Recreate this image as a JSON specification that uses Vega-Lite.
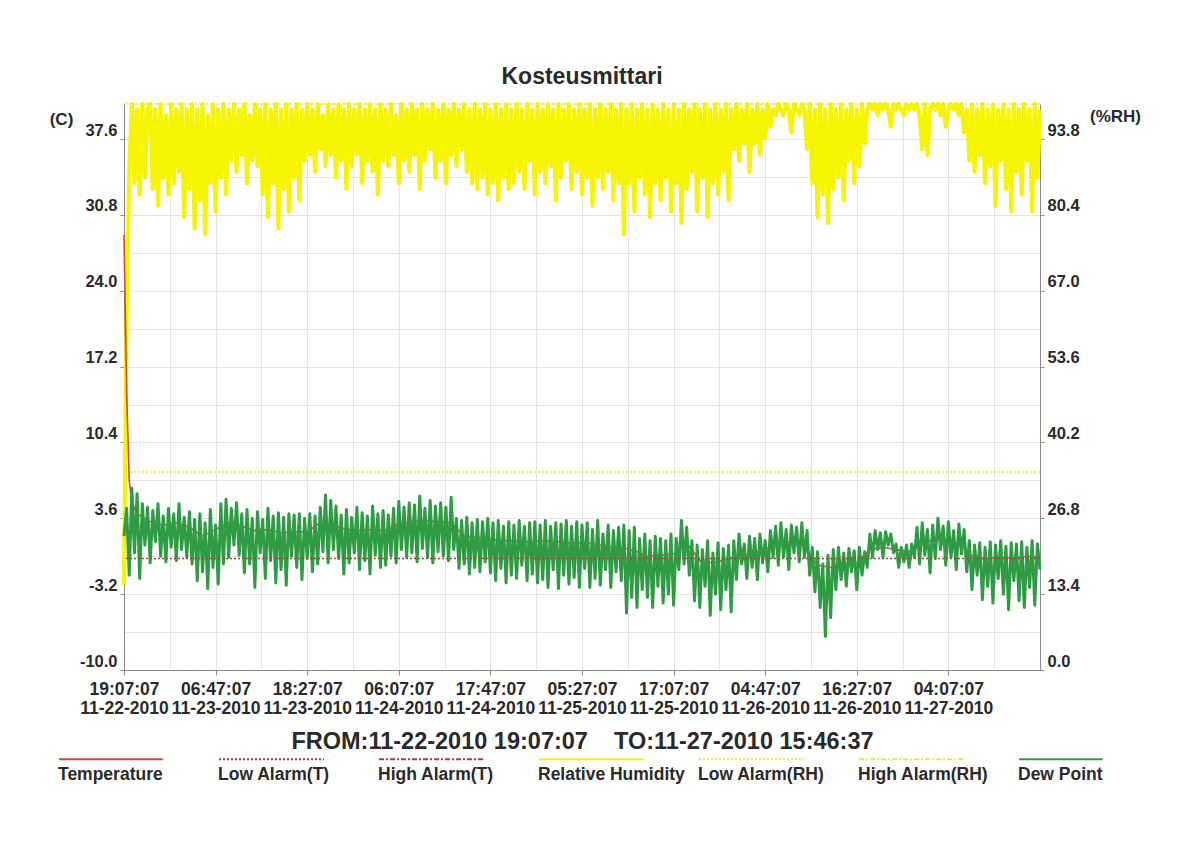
{
"$schema": "https://vega.github.io/schema/vega-lite/v6.json",
"autosize": {"type": "none"},
"padding": {"left": 124, "top": 104, "right": 142, "bottom": 173},
"width": 916,
"height": 566,
"background": "white",
"title": {"text": "Kosteusmittari", "font": "Liberation Sans", "fontSize": 23, "fontWeight": "bold", "color": "#2a2a2a", "anchor": "middle", "offset": 20, "dy": 25, "baseline": "alphabetic"},
"datasets": {
"dense": [
{"m":0,"rh":15,"dp":2.0},{"m":20,"rh":62,"dp":4.5},{"m":40,"rh":88,"dp":-1.5},{"m":60,"rh":100,"dp":6.3},{"m":80,"rh":86,"dp":0.5},{"m":100,"rh":99,"dp":5.8},{"m":120,"rh":84,"dp":-1.8},{"m":140,"rh":100,"dp":4.9},{"m":160,"rh":87,"dp":1.2},{"m":180,"rh":99,"dp":4.6},
{"m":200,"rh":100,"dp":-0.4},{"m":220,"rh":85,"dp":4.3},{"m":240,"rh":99,"dp":1.5},{"m":260,"rh":82,"dp":4.9},{"m":280,"rh":100,"dp":0.2},{"m":300,"rh":87,"dp":3.8},{"m":320,"rh":98,"dp":-0.3},{"m":340,"rh":84,"dp":4.5},{"m":360,"rh":100,"dp":1.0},{"m":380,"rh":86,"dp":4.0},
{"m":400,"rh":99,"dp":-0.2},{"m":420,"rh":88,"dp":4.9},{"m":440,"rh":100,"dp":0.8},{"m":460,"rh":80,"dp":3.7},{"m":480,"rh":99,"dp":0.1},{"m":500,"rh":85,"dp":4.2},{"m":520,"rh":100,"dp":-0.5},{"m":540,"rh":78,"dp":3.5},{"m":560,"rh":99,"dp":-2.0},{"m":580,"rh":83,"dp":4.0},
{"m":600,"rh":100,"dp":-1.2},{"m":620,"rh":77,"dp":3.2},{"m":640,"rh":98,"dp":-2.7},{"m":660,"rh":86,"dp":4.4},{"m":680,"rh":100,"dp":-0.8},{"m":700,"rh":81,"dp":3.0},{"m":720,"rh":99,"dp":-2.3},{"m":740,"rh":87,"dp":4.9},{"m":760,"rh":100,"dp":-0.5},{"m":780,"rh":84,"dp":5.3},
{"m":800,"rh":99,"dp":0.1},{"m":820,"rh":90,"dp":4.5},{"m":840,"rh":100,"dp":1.2},{"m":860,"rh":88,"dp":5.0},{"m":880,"rh":99,"dp":0.3},{"m":900,"rh":91,"dp":4.0},{"m":920,"rh":100,"dp":-1.3},{"m":940,"rh":86,"dp":4.4},{"m":960,"rh":98,"dp":-0.5},{"m":980,"rh":90,"dp":3.6},
{"m":1000,"rh":100,"dp":-2.6},{"m":1020,"rh":89,"dp":4.2},{"m":1040,"rh":99,"dp":0.5},{"m":1060,"rh":84,"dp":3.5},{"m":1080,"rh":100,"dp":-1.8},{"m":1100,"rh":80,"dp":4.5},{"m":1120,"rh":99,"dp":-0.2},{"m":1140,"rh":86,"dp":3.8},{"m":1160,"rh":100,"dp":-2.2},{"m":1180,"rh":78,"dp":4.1},
{"m":1200,"rh":99,"dp":-1.0},{"m":1220,"rh":85,"dp":3.7},{"m":1240,"rh":100,"dp":-2.4},{"m":1260,"rh":81,"dp":4.0},{"m":1280,"rh":99,"dp":0.2},{"m":1300,"rh":87,"dp":3.9},{"m":1320,"rh":100,"dp":-0.8},{"m":1340,"rh":83,"dp":4.0},{"m":1360,"rh":99,"dp":-1.9},{"m":1380,"rh":90,"dp":3.6},
{"m":1400,"rh":100,"dp":0.0},{"m":1420,"rh":91,"dp":4.0},{"m":1440,"rh":99,"dp":-1.2},{"m":1460,"rh":88,"dp":3.8},{"m":1480,"rh":100,"dp":-0.5},{"m":1500,"rh":92,"dp":4.6},{"m":1520,"rh":98,"dp":0.6},{"m":1540,"rh":89,"dp":5.7},{"m":1560,"rh":100,"dp":-0.4},{"m":1580,"rh":91,"dp":5.2},
{"m":1600,"rh":99,"dp":0.8},{"m":1620,"rh":87,"dp":4.7},{"m":1640,"rh":100,"dp":0.0},{"m":1660,"rh":90,"dp":3.9},{"m":1680,"rh":99,"dp":-1.4},{"m":1700,"rh":85,"dp":4.4},{"m":1720,"rh":100,"dp":-0.4},{"m":1740,"rh":89,"dp":3.7},{"m":1760,"rh":99,"dp":0.5},{"m":1780,"rh":91,"dp":4.6},
{"m":1800,"rh":100,"dp":-1.0},{"m":1820,"rh":86,"dp":4.1},{"m":1840,"rh":99,"dp":-0.2},{"m":1860,"rh":90,"dp":3.8},{"m":1880,"rh":100,"dp":-1.4},{"m":1900,"rh":88,"dp":4.7},{"m":1920,"rh":99,"dp":0.3},{"m":1940,"rh":84,"dp":4.0},{"m":1960,"rh":100,"dp":-0.8},{"m":1980,"rh":90,"dp":4.3},
{"m":2000,"rh":99,"dp":-0.6},{"m":2020,"rh":89,"dp":3.9},{"m":2040,"rh":100,"dp":0.2},{"m":2060,"rh":91,"dp":4.5},{"m":2080,"rh":98,"dp":-0.4},{"m":2100,"rh":86,"dp":5.1},{"m":2120,"rh":100,"dp":0.8},{"m":2140,"rh":90,"dp":4.6},{"m":2160,"rh":99,"dp":0.1},{"m":2180,"rh":88,"dp":5.0},
{"m":2200,"rh":100,"dp":0.5},{"m":2220,"rh":91,"dp":4.8},{"m":2240,"rh":99,"dp":-0.3},{"m":2260,"rh":85,"dp":5.6},{"m":2280,"rh":100,"dp":0.9},{"m":2300,"rh":90,"dp":4.5},{"m":2320,"rh":99,"dp":0.1},{"m":2340,"rh":92,"dp":5.2},{"m":2360,"rh":100,"dp":-0.4},{"m":2380,"rh":87,"dp":4.7},
{"m":2400,"rh":99,"dp":0.6},{"m":2420,"rh":90,"dp":5.0},{"m":2440,"rh":100,"dp":0.2},{"m":2460,"rh":86,"dp":4.6},{"m":2480,"rh":99,"dp":-0.2},{"m":2500,"rh":91,"dp":5.5},{"m":2520,"rh":100,"dp":0.8},{"m":2540,"rh":89,"dp":3.6},{"m":2560,"rh":99,"dp":-0.9},{"m":2580,"rh":92,"dp":3.4},
{"m":2600,"rh":100,"dp":-0.5},{"m":2620,"rh":88,"dp":3.7},{"m":2640,"rh":99,"dp":-1.4},{"m":2660,"rh":86,"dp":3.2},{"m":2680,"rh":100,"dp":-0.8},{"m":2700,"rh":85,"dp":3.5},{"m":2720,"rh":99,"dp":-1.2},{"m":2740,"rh":87,"dp":3.3},{"m":2760,"rh":100,"dp":-0.3},{"m":2780,"rh":84,"dp":3.6},
{"m":2800,"rh":99,"dp":-1.3},{"m":2820,"rh":86,"dp":3.2},{"m":2840,"rh":100,"dp":-2.0},{"m":2860,"rh":83,"dp":3.4},{"m":2880,"rh":99,"dp":-0.9},{"m":2900,"rh":87,"dp":2.9},{"m":2920,"rh":100,"dp":-2.2},{"m":2940,"rh":85,"dp":3.3},{"m":2960,"rh":99,"dp":-1.5},{"m":2980,"rh":86,"dp":3.0},
{"m":3000,"rh":100,"dp":-1.8},{"m":3020,"rh":88,"dp":3.4},{"m":3040,"rh":99,"dp":-0.6},{"m":3060,"rh":85,"dp":2.9},{"m":3080,"rh":100,"dp":-2.0},{"m":3100,"rh":90,"dp":3.2},{"m":3120,"rh":99,"dp":-1.4},{"m":3140,"rh":84,"dp":3.3},{"m":3160,"rh":100,"dp":-2.2},{"m":3180,"rh":88,"dp":3.0},
{"m":3200,"rh":99,"dp":-1.9},{"m":3220,"rh":86,"dp":3.4},{"m":3240,"rh":100,"dp":-2.6},{"m":3260,"rh":89,"dp":2.9},{"m":3280,"rh":99,"dp":-1.0},{"m":3300,"rh":83,"dp":3.2},{"m":3320,"rh":100,"dp":-2.7},{"m":3340,"rh":87,"dp":3.1},{"m":3360,"rh":99,"dp":-1.5},{"m":3380,"rh":90,"dp":3.4},
{"m":3400,"rh":100,"dp":-2.3},{"m":3420,"rh":85,"dp":2.9},{"m":3440,"rh":99,"dp":-1.7},{"m":3460,"rh":88,"dp":3.3},{"m":3480,"rh":100,"dp":-2.6},{"m":3500,"rh":84,"dp":3.0},{"m":3520,"rh":99,"dp":-0.9},{"m":3540,"rh":87,"dp":3.2},{"m":3560,"rh":100,"dp":-2.6},{"m":3580,"rh":82,"dp":2.6},
{"m":3600,"rh":99,"dp":-1.8},{"m":3620,"rh":87,"dp":3.4},{"m":3640,"rh":100,"dp":-2.4},{"m":3660,"rh":85,"dp":2.2},{"m":3680,"rh":99,"dp":-1.0},{"m":3700,"rh":88,"dp":3.0},{"m":3720,"rh":100,"dp":-2.6},{"m":3740,"rh":83,"dp":2.5},{"m":3760,"rh":99,"dp":-1.2},{"m":3780,"rh":86,"dp":2.8},
{"m":3800,"rh":100,"dp":-2.0},{"m":3820,"rh":77,"dp":3.0},{"m":3840,"rh":99,"dp":-4.9},{"m":3860,"rh":86,"dp":2.5},{"m":3880,"rh":100,"dp":-3.5},{"m":3900,"rh":81,"dp":2.8},{"m":3920,"rh":99,"dp":-4.4},{"m":3940,"rh":87,"dp":1.8},{"m":3960,"rh":100,"dp":-2.8},{"m":3980,"rh":84,"dp":2.2},
{"m":4000,"rh":99,"dp":-3.5},{"m":4020,"rh":80,"dp":1.6},{"m":4040,"rh":100,"dp":-4.4},{"m":4060,"rh":86,"dp":2.0},{"m":4080,"rh":99,"dp":-2.5},{"m":4100,"rh":83,"dp":1.8},{"m":4120,"rh":100,"dp":-4.0},{"m":4140,"rh":87,"dp":1.6},{"m":4160,"rh":99,"dp":-3.2},{"m":4180,"rh":81,"dp":2.2},
{"m":4200,"rh":100,"dp":-4.2},{"m":4220,"rh":86,"dp":1.8},{"m":4240,"rh":99,"dp":-1.0},{"m":4260,"rh":79,"dp":3.4},{"m":4280,"rh":100,"dp":-0.5},{"m":4300,"rh":85,"dp":2.8},{"m":4320,"rh":99,"dp":-1.5},{"m":4340,"rh":88,"dp":1.6},{"m":4360,"rh":100,"dp":-3.8},{"m":4380,"rh":81,"dp":1.2},
{"m":4400,"rh":99,"dp":-4.4},{"m":4420,"rh":87,"dp":0.8},{"m":4440,"rh":100,"dp":-2.5},{"m":4460,"rh":80,"dp":1.6},{"m":4480,"rh":99,"dp":-5.1},{"m":4500,"rh":86,"dp":0.5},{"m":4520,"rh":100,"dp":-3.2},{"m":4540,"rh":84,"dp":1.4},{"m":4560,"rh":99,"dp":-4.6},{"m":4580,"rh":88,"dp":0.9},
{"m":4600,"rh":100,"dp":-2.8},{"m":4620,"rh":83,"dp":1.2},{"m":4640,"rh":99,"dp":-4.8},{"m":4660,"rh":92,"dp":1.6},{"m":4680,"rh":100,"dp":-1.9},{"m":4700,"rh":90,"dp":2.2},{"m":4720,"rh":99,"dp":-0.5},{"m":4740,"rh":93,"dp":1.3},{"m":4760,"rh":100,"dp":-1.8},{"m":4780,"rh":88,"dp":2.0},
{"m":4800,"rh":99,"dp":-0.8},{"m":4820,"rh":93,"dp":1.8},{"m":4840,"rh":100,"dp":-1.9},{"m":4860,"rh":91,"dp":2.2},{"m":4880,"rh":99,"dp":-0.4},{"m":4900,"rh":94,"dp":1.6},{"m":4920,"rh":100,"dp":-1.2},{"m":4940,"rh":96,"dp":2.5},{"m":4960,"rh":99,"dp":0.1},{"m":4980,"rh":98,"dp":2.9},
{"m":5000,"rh":100,"dp":-0.6},{"m":5020,"rh":99,"dp":3.2},{"m":5040,"rh":98,"dp":0.1},{"m":5060,"rh":100,"dp":2.6},{"m":5080,"rh":99,"dp":-1.0},{"m":5100,"rh":95,"dp":3.0},{"m":5120,"rh":100,"dp":0.5},{"m":5140,"rh":99,"dp":2.8},{"m":5160,"rh":98,"dp":-0.3},{"m":5180,"rh":100,"dp":3.2},
{"m":5200,"rh":99,"dp":0.1},{"m":5220,"rh":92,"dp":2.5},{"m":5240,"rh":100,"dp":-1.5},{"m":5260,"rh":86,"dp":1.0},{"m":5280,"rh":99,"dp":-3.0},{"m":5300,"rh":80,"dp":0.6},{"m":5320,"rh":100,"dp":-4.4},{"m":5340,"rh":84,"dp":-0.5},{"m":5360,"rh":99,"dp":-7.0},{"m":5380,"rh":79,"dp":0.3},
{"m":5400,"rh":100,"dp":-5.3},{"m":5420,"rh":85,"dp":0.8},{"m":5440,"rh":99,"dp":-2.8},{"m":5460,"rh":87,"dp":1.0},{"m":5480,"rh":100,"dp":-1.9},{"m":5500,"rh":83,"dp":0.5},{"m":5520,"rh":99,"dp":-2.5},{"m":5540,"rh":90,"dp":0.9},{"m":5560,"rh":100,"dp":-1.2},{"m":5580,"rh":86,"dp":0.7},
{"m":5600,"rh":99,"dp":-2.8},{"m":5620,"rh":89,"dp":1.0},{"m":5640,"rh":100,"dp":-1.5},{"m":5660,"rh":93,"dp":0.6},{"m":5680,"rh":99,"dp":-0.8},{"m":5700,"rh":100,"dp":2.2},{"m":5720,"rh":99,"dp":0.1},{"m":5740,"rh":100,"dp":2.5},{"m":5760,"rh":98,"dp":0.8},{"m":5780,"rh":100,"dp":2.3},
{"m":5800,"rh":99,"dp":0.1},{"m":5820,"rh":100,"dp":2.4},{"m":5840,"rh":99,"dp":1.2},{"m":5860,"rh":96,"dp":2.2},{"m":5880,"rh":100,"dp":0.5},{"m":5900,"rh":99,"dp":1.3},{"m":5920,"rh":100,"dp":-0.8},{"m":5940,"rh":99,"dp":1.0},{"m":5960,"rh":98,"dp":-0.3},{"m":5980,"rh":100,"dp":1.2},
{"m":6000,"rh":99,"dp":-0.8},{"m":6020,"rh":100,"dp":1.3},{"m":6040,"rh":99,"dp":0.1},{"m":6060,"rh":100,"dp":2.8},{"m":6080,"rh":98,"dp":-0.5},{"m":6100,"rh":92,"dp":3.2},{"m":6120,"rh":100,"dp":0.3},{"m":6140,"rh":91,"dp":2.6},{"m":6160,"rh":99,"dp":-1.3},{"m":6180,"rh":100,"dp":3.0},
{"m":6200,"rh":99,"dp":0.0},{"m":6220,"rh":100,"dp":3.6},{"m":6240,"rh":98,"dp":0.8},{"m":6260,"rh":100,"dp":2.9},{"m":6280,"rh":96,"dp":-0.6},{"m":6300,"rh":99,"dp":3.3},{"m":6320,"rh":100,"dp":0.1},{"m":6340,"rh":99,"dp":2.5},{"m":6360,"rh":100,"dp":-1.0},{"m":6380,"rh":98,"dp":3.1},
{"m":6400,"rh":100,"dp":0.4},{"m":6420,"rh":95,"dp":2.6},{"m":6440,"rh":99,"dp":-1.2},{"m":6460,"rh":90,"dp":1.6},{"m":6480,"rh":100,"dp":-2.8},{"m":6500,"rh":88,"dp":1.2},{"m":6520,"rh":99,"dp":-1.5},{"m":6540,"rh":91,"dp":1.4},{"m":6560,"rh":100,"dp":-3.7},{"m":6580,"rh":86,"dp":1.0},
{"m":6600,"rh":99,"dp":-2.5},{"m":6620,"rh":89,"dp":1.5},{"m":6640,"rh":100,"dp":-4.0},{"m":6660,"rh":82,"dp":1.2},{"m":6680,"rh":99,"dp":-1.8},{"m":6700,"rh":90,"dp":1.6},{"m":6720,"rh":100,"dp":-3.2},{"m":6740,"rh":85,"dp":1.1},{"m":6760,"rh":99,"dp":-4.6},{"m":6780,"rh":81,"dp":1.4},
{"m":6800,"rh":100,"dp":-2.0},{"m":6820,"rh":88,"dp":1.3},{"m":6840,"rh":99,"dp":-3.8},{"m":6860,"rh":84,"dp":1.5},{"m":6880,"rh":100,"dp":-4.4},{"m":6900,"rh":90,"dp":1.0},{"m":6920,"rh":99,"dp":-2.6},{"m":6940,"rh":81,"dp":1.6},{"m":6960,"rh":100,"dp":-4.2},{"m":6980,"rh":87,"dp":1.3},
{"m":7000,"rh":99,"dp":-1.0}
],
"temp": [
{"m":0,"t":29.0},{"m":20,"t":15.0},{"m":40,"t":7.0},{"m":60,"t":5.0},{"m":100,"t":4.0},{"m":200,"t":3.3},{"m":300,"t":3.0},{"m":400,"t":3.2},{"m":500,"t":2.8},{"m":600,"t":2.0},{"m":700,"t":2.6},{"m":800,"t":3.2},{"m":900,"t":2.9},{"m":1000,"t":2.5},{"m":1100,"t":2.6},{"m":1200,"t":2.3},{"m":1300,"t":2.4},{"m":1400,"t":2.4},{"m":1500,"t":3.2},{"m":1600,"t":3.0},{"m":1700,"t":2.6},{"m":1800,"t":2.5},{"m":1900,"t":2.6},{"m":2000,"t":2.5},{"m":2100,"t":3.1},{"m":2200,"t":3.3},{"m":2300,"t":3.4},{"m":2400,"t":3.3},{"m":2500,"t":3.2},{"m":2600,"t":2.0},{"m":2700,"t":1.9},{"m":2800,"t":1.7},{"m":2900,"t":1.6},{"m":3000,"t":1.6},{"m":3100,"t":1.5},{"m":3200,"t":1.6},{"m":3300,"t":1.5},{"m":3400,"t":1.4},{"m":3500,"t":1.4},{"m":3600,"t":1.3},{"m":3700,"t":1.0},{"m":3800,"t":1.0},{"m":3900,"t":0.7},{"m":4000,"t":0.2},{"m":4100,"t":0.3},{"m":4200,"t":0.4},{"m":4300,"t":1.4},{"m":4400,"t":-0.2},{"m":4500,"t":-0.4},{"m":4600,"t":-0.1},{"m":4700,"t":0.2},{"m":4800,"t":0.4},{"m":4900,"t":0.8},{"m":5000,"t":1.4},{"m":5100,"t":1.5},{"m":5200,"t":1.1},{"m":5300,"t":-0.6},{"m":5400,"t":-0.8},{"m":5500,"t":-0.5},{"m":5600,"t":-0.4},{"m":5700,"t":0.8},{"m":5800,"t":1.0},{"m":5900,"t":0.8},{"m":6000,"t":0.6},{"m":6100,"t":1.3},{"m":6200,"t":1.8},{"m":6300,"t":1.6},{"m":6400,"t":1.2},{"m":6500,"t":0.0},{"m":6600,"t":0.0},{"m":6700,"t":0.1},{"m":6800,"t":0.0},{"m":6900,"t":0.2},{"m":7000,"t":0.1}
],
"alarms": [
{"series":"Low Alarm(T)","v":0},
{"series":"Low Alarm(RH)","v":35},
{"series":"High Alarm(RH)","v":100}
]
},
"layer": [
{"layer": [
{"data": {"name": "dense"},
"mark": {"type": "line", "strokeWidth": 4.2, "strokeJoin": "round"},
"encoding": {
"x": {"field": "m", "type": "quantitative", "scale": {"domain": [0, 7000], "nice": false, "zero": false},
"axis": {"values": [0,350,700,1050,1400,1750,2100,2450,2800,3150,3500,3850,4200,4550,4900,5250,5600,5950,6300,6650],
"labelExpr": "datum.value % 700 == 0 ? [timeFormat(datetime(2010,10,22,19,7,7+datum.value*60),'%H:%M:%S'), timeFormat(datetime(2010,10,22,19,7,7+datum.value*60),'%m-%d-%Y')] : ''",
"title": "FROM:11-22-2010 19:07:07\u00a0\u00a0\u00a0\u00a0TO:11-27-2010 15:46:37",
"titleFontSize": 23.5, "titlePadding": 13, "labelFontSize": 17.5, "labelLineHeight": 19, "labelPadding": 5, "tickSize": 5,
"tickOpacity": {"condition": {"test": "datum.value % 700 != 0", "value": 0}, "value": 1},
"grid": true, "labelFlush": false, "labelOverlap": false, "labelAngle": 0}},
"y": {"field": "rh", "type": "quantitative", "scale": {"domain": [0, 100], "nice": false, "zero": false},
"axis": {"orient": "right", "values": [0,6.7,13.4,20.1,26.8,33.5,40.2,46.9,53.6,60.3,67,73.7,80.4,87.1,93.8],
"labelExpr": "round(datum.value/6.7) % 2 == 0 ? format(datum.value,'.1f') : ''",
"tickOpacity": {"condition": {"test": "round(datum.value/6.7) % 2 == 1", "value": 0}, "value": 1},
"title": "(%RH)", "titleAngle": 0, "titleX": 75, "titleY": 12, "titleAlign": "center", "titleBaseline": "middle", "titleFontSize": 17,
"labelFontSize": 16.5, "labelOffset": -9, "labelPadding": 3, "tickSize": 4, "grid": false, "labelFlush": false, "labelOverlap": false}},
"color": {"datum": "Relative Humidity", "type": "nominal",
"scale": {"domain": ["Temperature","Low Alarm(T)","High Alarm(T)","Relative Humidity","Low Alarm(RH)","High Alarm(RH)","Dew Point"],
"range": ["#d6463c","#b83a32","#b83a32","#f7f400","#ecea2c","#ecea2c","#2f9c45"]},
"legend": {"title": null, "encode": {"labels": {"update": {"dy": {"value": 16}}}}}},
"strokeDash": {"datum": "Relative Humidity", "type": "nominal",
"scale": {"domain": ["Temperature","Low Alarm(T)","High Alarm(T)","Relative Humidity","Low Alarm(RH)","High Alarm(RH)","Dew Point"],
"range": [[1,0],[2,2],[5,2,2,2],[1,0],[2,2],[5,2,2,2],[1,0]]},
"legend": {"title": null}}
}},
{"data": {"name": "alarms"},
"transform": [{"filter": "datum.series != 'Low Alarm(T)'"}],
"mark": {"type": "rule", "strokeWidth": 1.5},
"encoding": {
"y": {"field": "v", "type": "quantitative"},
"color": {"field": "series", "type": "nominal", "legend": {"title": null}},
"strokeDash": {"field": "series", "type": "nominal", "legend": {"title": null}}
}}
]},
{"layer": [
{"data": {"name": "temp"},
"mark": {"type": "line", "strokeWidth": 1.6},
"encoding": {
"x": {"field": "m", "type": "quantitative"},
"y": {"field": "t", "type": "quantitative", "scale": {"domain": [-10, 40.75], "nice": false, "zero": false},
"axis": {"orient": "left", "values": [-10,-6.6,-3.2,0.2,3.6,7,10.4,13.8,17.2,20.6,24,27.4,30.8,34.2,37.6],
"labelExpr": "round((datum.value+10)/3.4) % 2 == 0 ? (datum.value < 0 ? '-' : '') + format(abs(datum.value),'.1f') : ''",
"tickOpacity": {"condition": {"test": "round((datum.value+10)/3.4) % 2 == 1", "value": 0}, "value": 1},
"title": "(C)", "titleAngle": 0, "titleX": -63, "titleY": 15, "titleAlign": "center", "titleBaseline": "middle", "titleFontSize": 17,
"labelFontSize": 16.5, "labelOffset": -9, "labelPadding": 3, "tickSize": 4, "grid": true, "labelFlush": false, "labelOverlap": false}},
"color": {"datum": "Temperature", "type": "nominal", "legend": {"title": null}},
"strokeDash": {"datum": "Temperature", "type": "nominal", "legend": {"title": null}}
}},
{"data": {"name": "dense"},
"mark": {"type": "line", "strokeWidth": 3, "strokeJoin": "round"},
"encoding": {
"x": {"field": "m", "type": "quantitative"},
"y": {"field": "dp", "type": "quantitative"},
"color": {"datum": "Dew Point", "type": "nominal", "legend": {"title": null}},
"strokeDash": {"datum": "Dew Point", "type": "nominal", "legend": {"title": null}}
}},
{"data": {"name": "alarms"},
"transform": [{"filter": "datum.series == 'Low Alarm(T)'"}],
"mark": {"type": "rule", "strokeWidth": 1.5},
"encoding": {
"y": {"field": "v", "type": "quantitative"},
"color": {"field": "series", "type": "nominal", "legend": {"title": null}},
"strokeDash": {"field": "series", "type": "nominal", "legend": {"title": null}}
}}
]}
],
"resolve": {"scale": {"y": "independent"}},
"config": {
"view": {"stroke": null},
"font": "Liberation Sans",
"axis": {"labelFont": "Liberation Sans", "labelFontWeight": "bold", "labelColor": "#2a2a2a", "titleFont": "Liberation Sans", "titleFontWeight": "bold", "titleColor": "#2a2a2a", "domainColor": "#8a8a8a", "tickColor": "#8a8a8a", "gridColor": "#e4e4e4", "gridWidth": 1},
"legend": {"orient": "none", "legendX": -66, "legendY": 653, "direction": "horizontal", "columns": 7, "gridAlign": "all", "columnPadding": 13, "rowPadding": 0, "padding": 0,
"symbolType": "stroke", "symbolSize": 11025, "symbolStrokeWidth": 2,
"labelFont": "Liberation Sans", "labelFontSize": 17.5, "labelFontWeight": "bold", "labelColor": "#2a2a2a", "labelOffset": -107, "labelLimit": 400, "clipHeight": 4}
}
}
